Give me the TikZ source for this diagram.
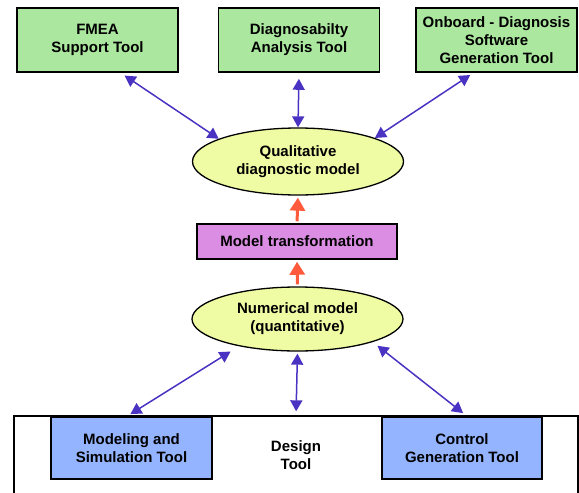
\documentclass[tikz,border=0pt]{standalone}
\usepackage{fontspec}
\setmainfont{Liberation Sans}
\usetikzlibrary{arrows.meta,shapes.geometric}

\definecolor{toolgreen}{HTML}{ABE79E}
\definecolor{modelyellow}{HTML}{EFFCA4}
\definecolor{transpurple}{HTML}{DA8DE2}
\definecolor{toolblue}{HTML}{94B4FF}
\definecolor{linkblue}{HTML}{4A33C2}
\definecolor{flowred}{HTML}{FF5A3C}

\tikzset{
	txt/.style={font=\bfseries\fontsize{15}{18}\selectfont, align=center, inner sep=0pt},
	toolbox/.style={txt, draw=black, line width=1.6pt, minimum width=161pt, minimum height=64pt},
	modelell/.style={txt, ellipse, draw=black, line width=1.3pt, fill=modelyellow, minimum width=211pt},
	link/.style={draw=linkblue, line width=1.5pt, {Triangle[length=11pt,width=12pt]}-{Triangle[length=11pt,width=12pt]}},
	flow/.style={draw=flowred, line width=3pt, -{Triangle[length=13pt,width=15pt]}}
}

\begin{document}
\begin{tikzpicture}[x=1pt, y=-1pt]
	\useasboundingbox (0,0) rectangle (579,493);

	% top row of tools
	\node[toolbox, fill=toolgreen] (fmea) at (97.5,40) {FMEA\\Support Tool};
	\node[toolbox, fill=toolgreen] (diag) at (299,40) {Diagnosabilty\\Analysis Tool};
	\node[toolbox, fill=toolgreen] (onb) at (496.5,40) {Onboard - Diagnosis\\Software\\Generation Tool};

	% models and transformation
	\node[modelell, minimum height=67pt] (qual) at (298,161.5) {Qualitative\\diagnostic model};
	\node[txt, draw=black, line width=1.5pt, fill=transpurple, minimum width=200pt, minimum height=35pt] (trans) at (297,241.5) {Model transformation};
	\node[modelell, minimum height=64pt] (num) at (297.5,319) {Numerical model\\(quantitative)};

	% design tool frame (runs past the lower edge)
	\node[txt, draw=black, line width=1.3pt, minimum width=564pt, minimum height=79pt] (design) at (296,455.5) {};
	\node[txt] (designlbl) at (296,455) {Design\\Tool};
	\node[toolbox, fill=toolblue, minimum height=62pt] (msim) at (131.5,448) {Modeling and\\Simulation Tool};
	\node[toolbox, fill=toolblue, minimum width=160pt, minimum height=62pt] (cgen) at (462,448) {Control\\Generation Tool};

	% links to the qualitative model
	\draw[link, shorten <=5pt] (fmea.-55) -- (qual.164);
	\draw[link, shorten <=6pt] (diag.south) -- (qual.north);
	\draw[link, shorten <=4pt] (onb.-125) -- (qual.17);

	% transformation flow
	\draw[flow, shorten <=2pt, shorten >=2pt] (trans.north) -- (qual.south);
	\draw[flow, shorten <=2pt, shorten >=2pt] (num.north) -- (trans.south);

	% links to the numerical model
	\draw[link, shorten <=4pt, shorten >=10pt] (msim.98) -- (num.205);
	\draw[link, shorten <=2pt, shorten >=4pt] (num.south) -- (design.north);
	\draw[link, shorten <=5pt, shorten >=6pt] (cgen.81) -- (num.-17);

\end{tikzpicture}
\end{document}
